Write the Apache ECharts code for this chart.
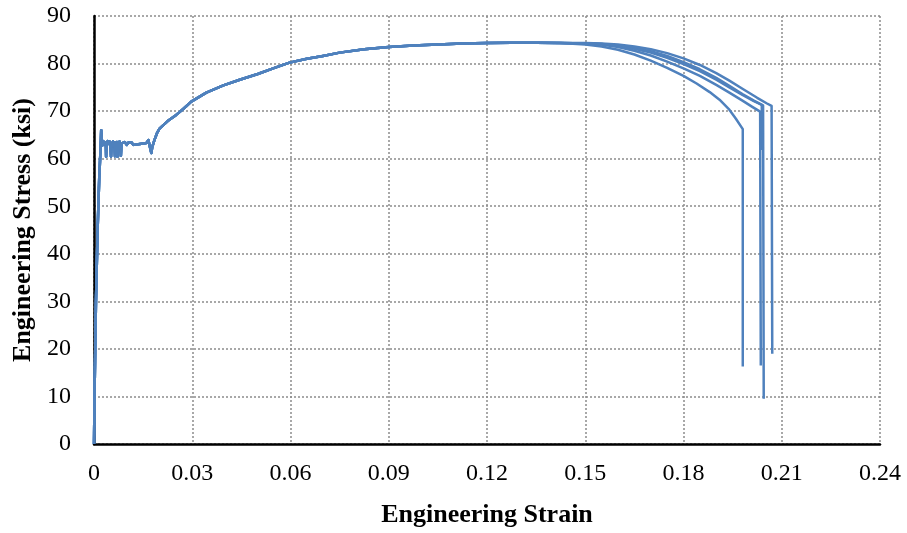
<!DOCTYPE html>
<html>
<head>
<meta charset="utf-8">
<script src="https://cdn.jsdelivr.net/npm/echarts@6/dist/echarts.min.js"></script>
<style>
  html, body { margin: 0; padding: 0; background: #fff; }
  #chart { width: 907px; height: 533px; }
</style>
</head>
<body>
<div id="chart"></div>
<script>
// Tensile test: engineering stress (ksi) vs engineering strain, five coupons.
// Shared response: elastic rise, yield plateau with serrations, strain hardening.
const sharedCurve = [
  [0, 0], [0.0002, 12], [0.0006, 30], [0.0011, 45], [0.0016, 56], [0.0020, 62],
  [0.0022, 66], [0.0024, 64], [0.0026, 62.8], [0.0028, 63.6], [0.0030, 63.0],
  [0.0032, 63.5], [0.0034, 62.9], [0.0036, 63.4], [0.0037, 60.4], [0.0039, 63.2],
  [0.0042, 63.7], [0.0045, 63.1], [0.0048, 63.6], [0.0050, 63.0], [0.0052, 60.4],
  [0.0054, 63.3], [0.0056, 62.8], [0.0058, 63.6], [0.0060, 62.9], [0.0062, 63.4],
  [0.0064, 60.5], [0.0066, 63.4], [0.0068, 62.9], [0.0070, 63.5], [0.0072, 60.4],
  [0.0074, 63.3], [0.0076, 62.8], [0.0078, 63.6], [0.0080, 63.1], [0.0082, 60.6],
  [0.0084, 63.2], [0.0087, 63.6], [0.0090, 63.0], [0.0094, 63.5], [0.0100, 62.9],
  [0.0105, 63.4], [0.0110, 63.0], [0.0115, 63.4], [0.0120, 62.9], [0.0125, 63.3],
  [0.0130, 63.0], [0.0135, 63.4], [0.0140, 63.1], [0.0145, 63.5], [0.0150, 63.2],
  [0.0155, 63.6], [0.0160, 63.3], [0.0166, 63.9], [0.0172, 63.5], [0.0175, 61.2],
  [0.0178, 62.5], [0.0185, 64.0], [0.0192, 65.3], [0.0200, 66.3], [0.0225, 67.9],
  [0.0251, 69.2], [0.0275, 70.6], [0.0297, 72.0], [0.0343, 73.9], [0.0395, 75.4],
  [0.0445, 76.6], [0.0500, 77.8], [0.0547, 79.0], [0.0597, 80.2], [0.0650, 81.0],
  [0.0699, 81.6], [0.0750, 82.3], [0.0825, 83.0], [0.0900, 83.5], [0.0975, 83.8],
  [0.1050, 84.0], [0.1125, 84.2], [0.1200, 84.3], [0.1275, 84.4], [0.1350, 84.4],
  [0.1425, 84.3]
];

// Necking and fracture of each coupon
const tailA = [[0.150, 84.0], [0.155, 83.6], [0.160, 82.9], [0.165, 81.9], [0.170, 80.6],
  [0.175, 79.1], [0.180, 77.4], [0.184, 75.8], [0.188, 74.0], [0.191, 72.4], [0.194, 70.3],
  [0.196, 68.4], [0.1981, 66.2], [0.1981, 16.3]];
const tailB = [[0.150, 84.2], [0.155, 84.0], [0.160, 83.5], [0.165, 82.7], [0.170, 81.7],
  [0.175, 80.4], [0.180, 79.0], [0.185, 77.4], [0.190, 75.5], [0.194, 73.9], [0.198, 72.2],
  [0.201, 70.9], [0.2034, 69.9], [0.2036, 16.5]];
const tailC = [[0.150, 84.2], [0.155, 84.1], [0.160, 83.7], [0.165, 83.1], [0.170, 82.3],
  [0.175, 81.2], [0.180, 79.9], [0.185, 78.4], [0.190, 76.6], [0.194, 75.0], [0.198, 73.4],
  [0.2015, 72.1], [0.2043, 71.2], [0.2045, 9.5]];
const tailD = [[0.150, 84.2], [0.155, 84.1], [0.160, 83.8], [0.165, 83.3], [0.170, 82.6],
  [0.175, 81.6], [0.180, 80.3], [0.185, 78.8], [0.190, 77.0], [0.194, 75.3], [0.198, 73.6],
  [0.2015, 72.2], [0.2039, 71.3], [0.2040, 61.8]];
const tailE = [[0.150, 84.3], [0.155, 84.2], [0.160, 84.0], [0.165, 83.6], [0.170, 83.0],
  [0.175, 82.2], [0.180, 81.1], [0.185, 79.7], [0.190, 78.0], [0.194, 76.4], [0.198, 74.7],
  [0.2025, 72.8], [0.2055, 71.6], [0.2069, 71.1], [0.2071, 19.0]];

const coupons = [tailA, tailB, tailC, tailD, tailE];

const xTicks = [0, 0.03, 0.06, 0.09, 0.12, 0.15, 0.18, 0.21, 0.24];
const yTicks = [0, 10, 20, 30, 40, 50, 60, 70, 80, 90];

const serif = '"Liberation Serif", "Times New Roman", serif';
const lineColor = '#4F81BD';

const chart = echarts.init(document.getElementById('chart'));
chart.setOption({
  animation: false,
  backgroundColor: '#fff',
  grid: { left: 94, right: 27, top: 16, bottom: 89 },
  xAxis: {
    type: 'value',
    min: xTicks[0], max: xTicks[xTicks.length - 1], interval: 0.03,
    name: 'Engineering Strain',
    nameLocation: 'middle', nameGap: 58,
    nameTextStyle: { fontFamily: serif, fontSize: 26, fontWeight: 'bold', color: '#000' },
    axisLine: { show: true, lineStyle: { color: '#000', width: 2.5 } },
    axisTick: { show: false },
    axisLabel: {
      margin: 18, fontFamily: serif, fontSize: 24, color: '#000',
      formatter: v => String(+v.toFixed(2))
    },
    splitLine: { show: true, lineStyle: { color: '#8c8c8c', width: 1.5, type: [2, 2] } }
  },
  yAxis: {
    type: 'value',
    min: yTicks[0], max: yTicks[yTicks.length - 1], interval: 10,
    name: 'Engineering Stress (ksi)',
    nameLocation: 'middle', nameGap: 58, nameRotate: 90,
    nameTextStyle: { fontFamily: serif, fontSize: 26, fontWeight: 'bold', color: '#000' },
    axisLine: { show: true, lineStyle: { color: '#000', width: 2.5 } },
    axisTick: { show: false },
    axisLabel: { margin: 23, fontFamily: serif, fontSize: 24, color: '#000' },
    splitLine: { show: true, lineStyle: { color: '#8c8c8c', width: 1.5, type: [2, 2] } }
  },
  series: coupons.map((tail, i) => ({
    name: 'Coupon ' + (i + 1),
    type: 'line',
    data: sharedCurve.concat(tail),
    showSymbol: false,
    symbol: 'none',
    lineStyle: { color: lineColor, width: 2.5, join: 'round' },
    z: 3
  }))
});
</script>
</body>
</html>
